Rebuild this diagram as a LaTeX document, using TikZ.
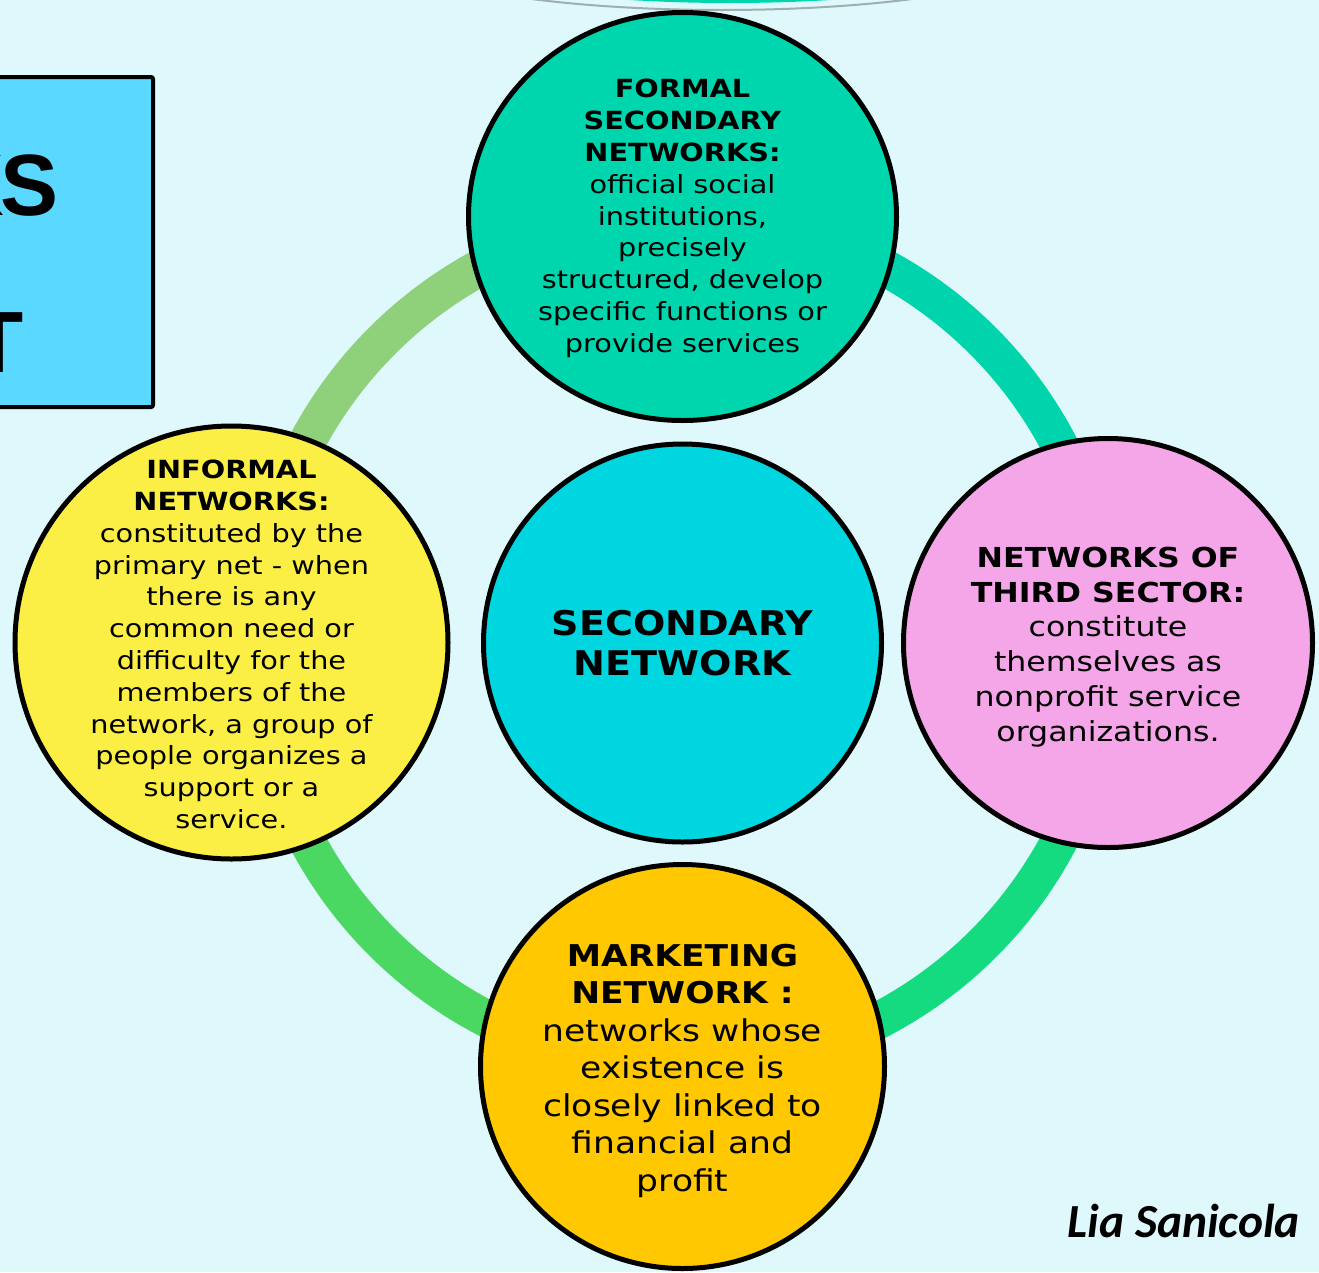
\documentclass[tikz,border=0pt]{standalone}
\usepackage{fontspec}
\setmainfont{DejaVu Sans}
\newfontfamily\wide[FakeStretch=1.15]{DejaVu Sans}
\newfontfamily\widebold[FakeStretch=1.12]{DejaVu Sans}
\newfontfamily\boxfont{Liberation Sans}
\newfontfamily\sigfont{Carlito}
\usetikzlibrary{shapes.geometric}
\definecolor{bgc}{HTML}{DFF8FC}
\definecolor{boxblue}{HTML}{5BD8FF}
\definecolor{cteal}{HTML}{00D6AE}
\definecolor{ccyan}{HTML}{00D6E0}
\definecolor{cyellow}{HTML}{FBEF45}
\definecolor{cpink}{HTML}{F5A6E8}
\definecolor{cgold}{HTML}{FFC800}
\definecolor{ringA}{HTML}{8ED17A}
\definecolor{ringB}{HTML}{00D4AC}
\definecolor{ringC}{HTML}{14DA80}
\definecolor{ringD}{HTML}{4AD762}
\definecolor{topgray}{HTML}{9DAFAF}
\begin{document}
\begin{tikzpicture}[x=1pt,y=1pt,
  bubble/.style={draw=black, line width=5pt, inner sep=0pt},
  round/.style={bubble, circle},
  oval/.style={bubble, ellipse},
  ringarc/.style={line width=37pt},
  lbl/.style={align=center, inner sep=0pt, text=black},
  fa/.style={font=\wide\fontsize{25}{31.8}\selectfont},
  fb/.style={font=\wide\fontsize{27.5}{34.8}\selectfont},
  fc/.style={font=\wide\fontsize{30}{37.5}\selectfont},
  fd/.style={font=\widebold\bfseries\fontsize{34}{40}\selectfont}
]
\useasboundingbox (0,0) rectangle (1319,-1272);
\fill[bgc] (0,0) rectangle (1319,-1272);
\clip (0,0) rectangle (1319,-1272);

% partial shape at the top edge
\fill[cteal] (730,50) ellipse [x radius=301, y radius=53];
\draw[topgray, line width=2pt] (722,50) ellipse [x radius=330, y radius=60];

% left title box (cut off)
\node[draw=black, line width=4pt, fill=boxblue, rounded corners=2pt, minimum width=260pt, minimum height=330pt, anchor=north east] (titlebox) at (155,-75) {};
\node[anchor=base east, inner sep=0pt, font=\boxfont\bfseries\fontsize{87}{96}\selectfont] (tks) at (59,-215) {K\kern-4pt S};
\node[anchor=base east, inner sep=0pt, font=\boxfont\bfseries\fontsize{87}{96}\selectfont] (tt) at (24,-372) {T};

% circle centres
\coordinate (ctop) at (682.5,-216.5);
\coordinate (cleft) at (231.5,-642.5);
\coordinate (cright) at (1108,-643);
\coordinate (cbottom) at (682.5,-1066.5);
\coordinate (ccenter) at (682.5,-643);

% ring
\draw[ringarc, ringA] (ctop) arc[start angle=90, end angle=180, radius=425];
\draw[ringarc, ringB] (ctop) arc[start angle=90, end angle=0, radius=425];
\draw[ringarc, ringC] (cright) arc[start angle=0, end angle=-90, radius=425];
\draw[ringarc, ringD] (cbottom) arc[start angle=-90, end angle=-180, radius=425];

% circles
\node[oval, fill=cteal, minimum width=428pt, minimum height=408pt] (top) at (ctop) {};
\node[round, fill=cyellow, minimum size=433pt] (left) at (cleft) {};
\node[round, fill=cpink, minimum size=409pt] (right) at (cright) {};
\node[round, fill=cgold, minimum size=404pt] (bottom) at (cbottom) {};
\node[round, fill=ccyan, minimum size=398pt] (center) at (ccenter) {};

% texts
\node[lbl, fa] (toptext) at ([yshift=-2pt]top.center) {\textbf{FORMAL}\\\textbf{SECONDARY}\\\textbf{NETWORKS:}\\official social\\institutions,\\precisely\\structured, develop\\specific functions or\\provide services};
\node[lbl, fa] (lefttext) at ([yshift=-2pt]left.center) {\textbf{INFORMAL}\\\textbf{NETWORKS:}\\constituted by the\\primary net - when\\there is any\\common need or\\difficulty for the\\members of the\\network, a group of\\people organizes a\\support or a\\service.};
\node[lbl, fb] (righttext) at ([yshift=-4pt]right.center) {\textbf{NETWORKS OF}\\\textbf{THIRD SECTOR:}\\constitute\\themselves as\\nonprofit service\\organizations.};
\node[lbl, fc] (bottomtext) at ([yshift=-4pt]bottom.center) {\textbf{MARKETING}\\\textbf{NETWORK :}\\networks whose\\existence is\\closely linked to\\financial and\\profit};
\node[lbl, fd] (centertext) at ([yshift=0pt]center.center) {SECONDARY\\NETWORK};

% signature
\node[anchor=base east, inner sep=0pt, font=\sigfont\bfseries\itshape\fontsize{47.5}{52}\selectfont] (sig) at (1300,-1237) {Lia Sanicola};
\end{tikzpicture}
\end{document}
